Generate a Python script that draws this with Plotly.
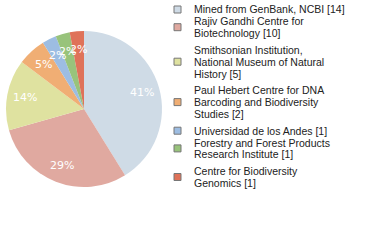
import math
import plotly.graph_objects as go

legend_lines = [
    ["Mined from GenBank, NCBI [14]"],
    ["Rajiv Gandhi Centre for", "Biotechnology [10]"],
    ["Smithsonian Institution,", "National Museum of Natural", "History [5]"],
    ["Paul Hebert Centre for DNA", "Barcoding and Biodiversity", "Studies [2]"],
    ["Universidad de los Andes [1]"],
    ["Forestry and Forest Products", "Research Institute [1]"],
    ["Centre for Biodiversity", "Genomics [1]"],
]
values = [14, 10, 5, 2, 1, 1, 1]
colors = ["#cfdbe6", "#e0a9a0", "#dfe2a0", "#f0ae74", "#9dbde2", "#98c37b", "#df7259"]

labels = [" ".join(l) for l in legend_lines]
total = sum(values)
pct_text = [f"{int(v * 100 / total)}%" for v in values]

W, H = 380, 240
# pie geometry (pixels)
cx, cy, R = 84, 109, 78

fig = go.Figure(
    go.Pie(
        labels=labels,
        values=values,
        textinfo="none",
        marker=dict(colors=colors, line=dict(width=0)),
        sort=False,
        direction="clockwise",
        rotation=0,
        domain=dict(x=[(cx - R) / W, (cx + R) / W], y=[1 - (cy + R) / H, 1 - (cy - R) / H]),
        hoverinfo="label+value",
        showlegend=False,
    )
)

annotations = []
shapes = []

# percentage labels placed along each slice's mid-angle
cum = 0
for v, t in zip(values, pct_text):
    mid = (cum + v / 2) / total * 2 * math.pi
    cum += v
    px = cx + 0.77 * R * math.sin(mid)
    py = cy - 0.77 * R * math.cos(mid)
    annotations.append(dict(
        x=px / W, y=1 - py / H, xref="paper", yref="paper",
        text=t, showarrow=False, xanchor="center", yanchor="middle",
        font=dict(family="DejaVu Sans", size=11, color="white"),
    ))

# legend (manual)
step = 11.8
gap = 5
y = 9.5
sq_x0, sq_x1 = 174, 181
text_x = 192
for lines, col in zip(legend_lines, colors):
    ys = []
    for line in lines:
        ys.append(y)
        annotations.append(dict(
            x=text_x / W, y=1 - y / H, xref="paper", yref="paper",
            text=line, showarrow=False, xanchor="left", yanchor="middle",
            font=dict(family="Liberation Sans", size=10.5, color="#222222"),
        ))
        y += step
    if len(lines) > 1:
        y += gap
    ymid = (ys[0] + ys[-1]) / 2
    shapes.append(dict(
        type="rect", xref="paper", yref="paper",
        x0=sq_x0 / W, x1=sq_x1 / W,
        y0=1 - (ymid - 3.5) / H, y1=1 - (ymid + 3.5) / H,
        fillcolor=col, line=dict(color="#777777", width=1),
    ))

fig.update_layout(
    width=W,
    height=H,
    margin=dict(l=0, r=0, t=0, b=0),
    paper_bgcolor="white",
    plot_bgcolor="white",
    annotations=annotations,
    shapes=shapes,
)

fig.write_html("out.html")
